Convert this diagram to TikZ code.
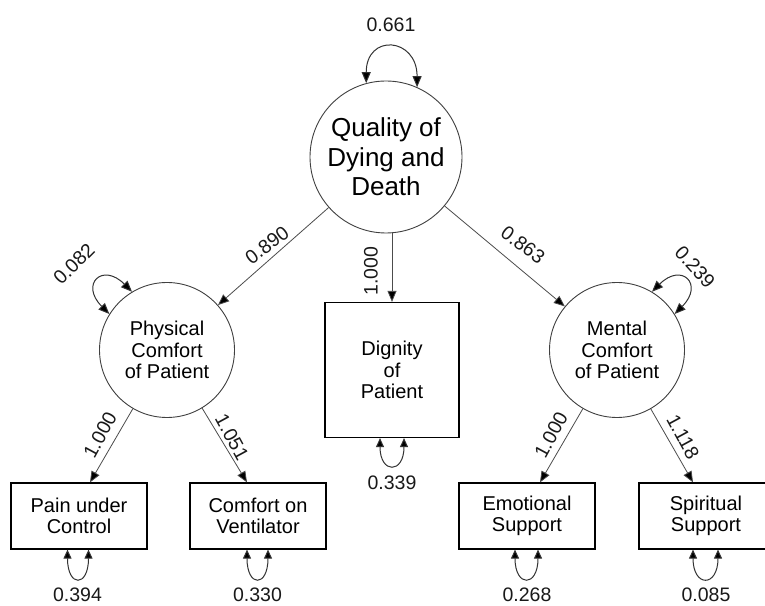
\documentclass[tikz,border=0pt]{standalone}
\usepackage{fontspec}
\setmainfont{Liberation Sans}
\usetikzlibrary{arrows.meta}
\tikzset{
  lat/.style={circle, draw=black!75, line width=0.9pt, align=center, inner sep=0pt,
    font=\fontsize{20}{21.7}\selectfont},
  latbig/.style={circle, draw=black!75, line width=0.9pt, align=center, inner sep=0pt,
    font=\fontsize{26}{29.5}\selectfont},
  obs/.style={rectangle, draw=black, line width=1.2pt, align=center, inner sep=0pt,
    font=\fontsize{20}{21.5}\selectfont},
  num/.style={font=\fontsize{19.5}{21}\selectfont, inner sep=0pt, text=black!90},
  edge/.style={draw=black!70, line width=0.8pt, -{Triangle[length=11pt,width=9pt,fill=black]}},
  loopst/.style={draw=black!80, line width=1pt, {Triangle[length=11pt,width=9pt,fill=black]}-{Triangle[length=11pt,width=9pt,fill=black]}},
  bloop/.style={draw=black!80, line width=1pt, {Triangle[length=9pt,width=8pt,fill=black]}-{Triangle[length=9pt,width=8pt,fill=black]}}
}
\begin{document}
\begin{tikzpicture}[x=1pt,y=1pt]
\useasboundingbox (0,0) rectangle (765,605);
\fill[white] (0,0) rectangle (765,605);
\clip (0,0) rectangle (765,605);
% nodes
\node[latbig, minimum size=152pt] (Q) at (386,448) {Quality of\\Dying and\\Death};
\node[lat, minimum size=135pt] (P) at (167,255) {Physical\\Comfort\\of Patient};
\node[lat, minimum size=135pt] (M) at (617,255) {Mental\\Comfort\\of Patient};
\node[obs, minimum width=134pt, minimum height=135pt] (D) at (392,235) {Dignity\\of\\Patient};
\node[obs, minimum width=136pt, minimum height=66pt] (Pain) at (79,89) {Pain under\\Control};
\node[obs, minimum width=136pt, minimum height=66pt] (Comf) at (258,89) {Comfort on\\Ventilator};
\node[obs, minimum width=136pt, minimum height=66pt] (Emo) at (527,89) {Emotional\\Support};
\node[obs, minimum width=134pt, minimum height=66pt] (Spir) at (706,89) {Spiritual\\Support};
% edges
\draw[edge] (Q) -- (P);
\draw[edge] (Q) -- (M);
\draw[edge] (D.north |- Q.south) -- (D.north);
\draw[edge] (P) -- ([xshift=11pt]Pain.north);
\draw[edge] (P) -- ([xshift=-11pt]Comf.north);
\draw[edge] (M) -- ([xshift=13pt]Emo.north);
\draw[edge] (M) -- ([xshift=-13pt]Spir.north);
% variance loops
\draw[loopst] (Q.105) .. controls +(0,50) and +(0,50) .. (Q.66);
\draw[loopst] (P.121) .. controls +(135:42) and +(135:42) .. (P.148);
\draw[loopst] (M.59) .. controls +(45:42) and +(45:42) .. (M.32);
\draw[bloop] ([xshift=-12pt]D.south) .. controls +(0,-36) and +(0,-36) .. ([xshift=12pt]D.south);
\draw[bloop] ([xshift=-11.5pt]Pain.south) .. controls +(0,-38) and +(0,-38) .. ([xshift=9.5pt]Pain.south);
\draw[bloop] ([xshift=-11pt]Comf.south) .. controls +(0,-38) and +(0,-38) .. ([xshift=10pt]Comf.south);
\draw[bloop] ([xshift=-12pt]Emo.south) .. controls +(0,-38) and +(0,-38) .. ([xshift=11pt]Emo.south);
\draw[bloop] ([xshift=-13pt]Spir.south) .. controls +(0,-38) and +(0,-38) .. ([xshift=12pt]Spir.south);
% labels
\node[num] (l661) at (391,580) {0.661};
\node[num, rotate=37] (l890) at (267,360) {0.890};
\node[num, rotate=-37] (l863) at (523,360) {0.863};
\node[num, rotate=90] (l100d) at (371,334) {1.000};
\node[num, rotate=45] (l082) at (74,341) {0.082};
\node[num, rotate=-48] (l239) at (695,338) {0.239};
\node[num, rotate=61.5] (l100p) at (100,170) {1.000};
\node[num, rotate=-61.5] (l1051) at (232,168) {1.051};
\node[num, rotate=61.5] (l100m) at (551,170) {1.000};
\node[num, rotate=-61.5] (l1118) at (683,168) {1.118};
\node[num] (l394) at (77.5,10) {0.394};
\node[num] (l330) at (257.5,10) {0.330};
\node[num] (l268) at (527,10) {0.268};
\node[num] (l085) at (706,10) {0.085};
\node[num] (l339) at (392,122) {0.339};
\end{tikzpicture}
\end{document}
